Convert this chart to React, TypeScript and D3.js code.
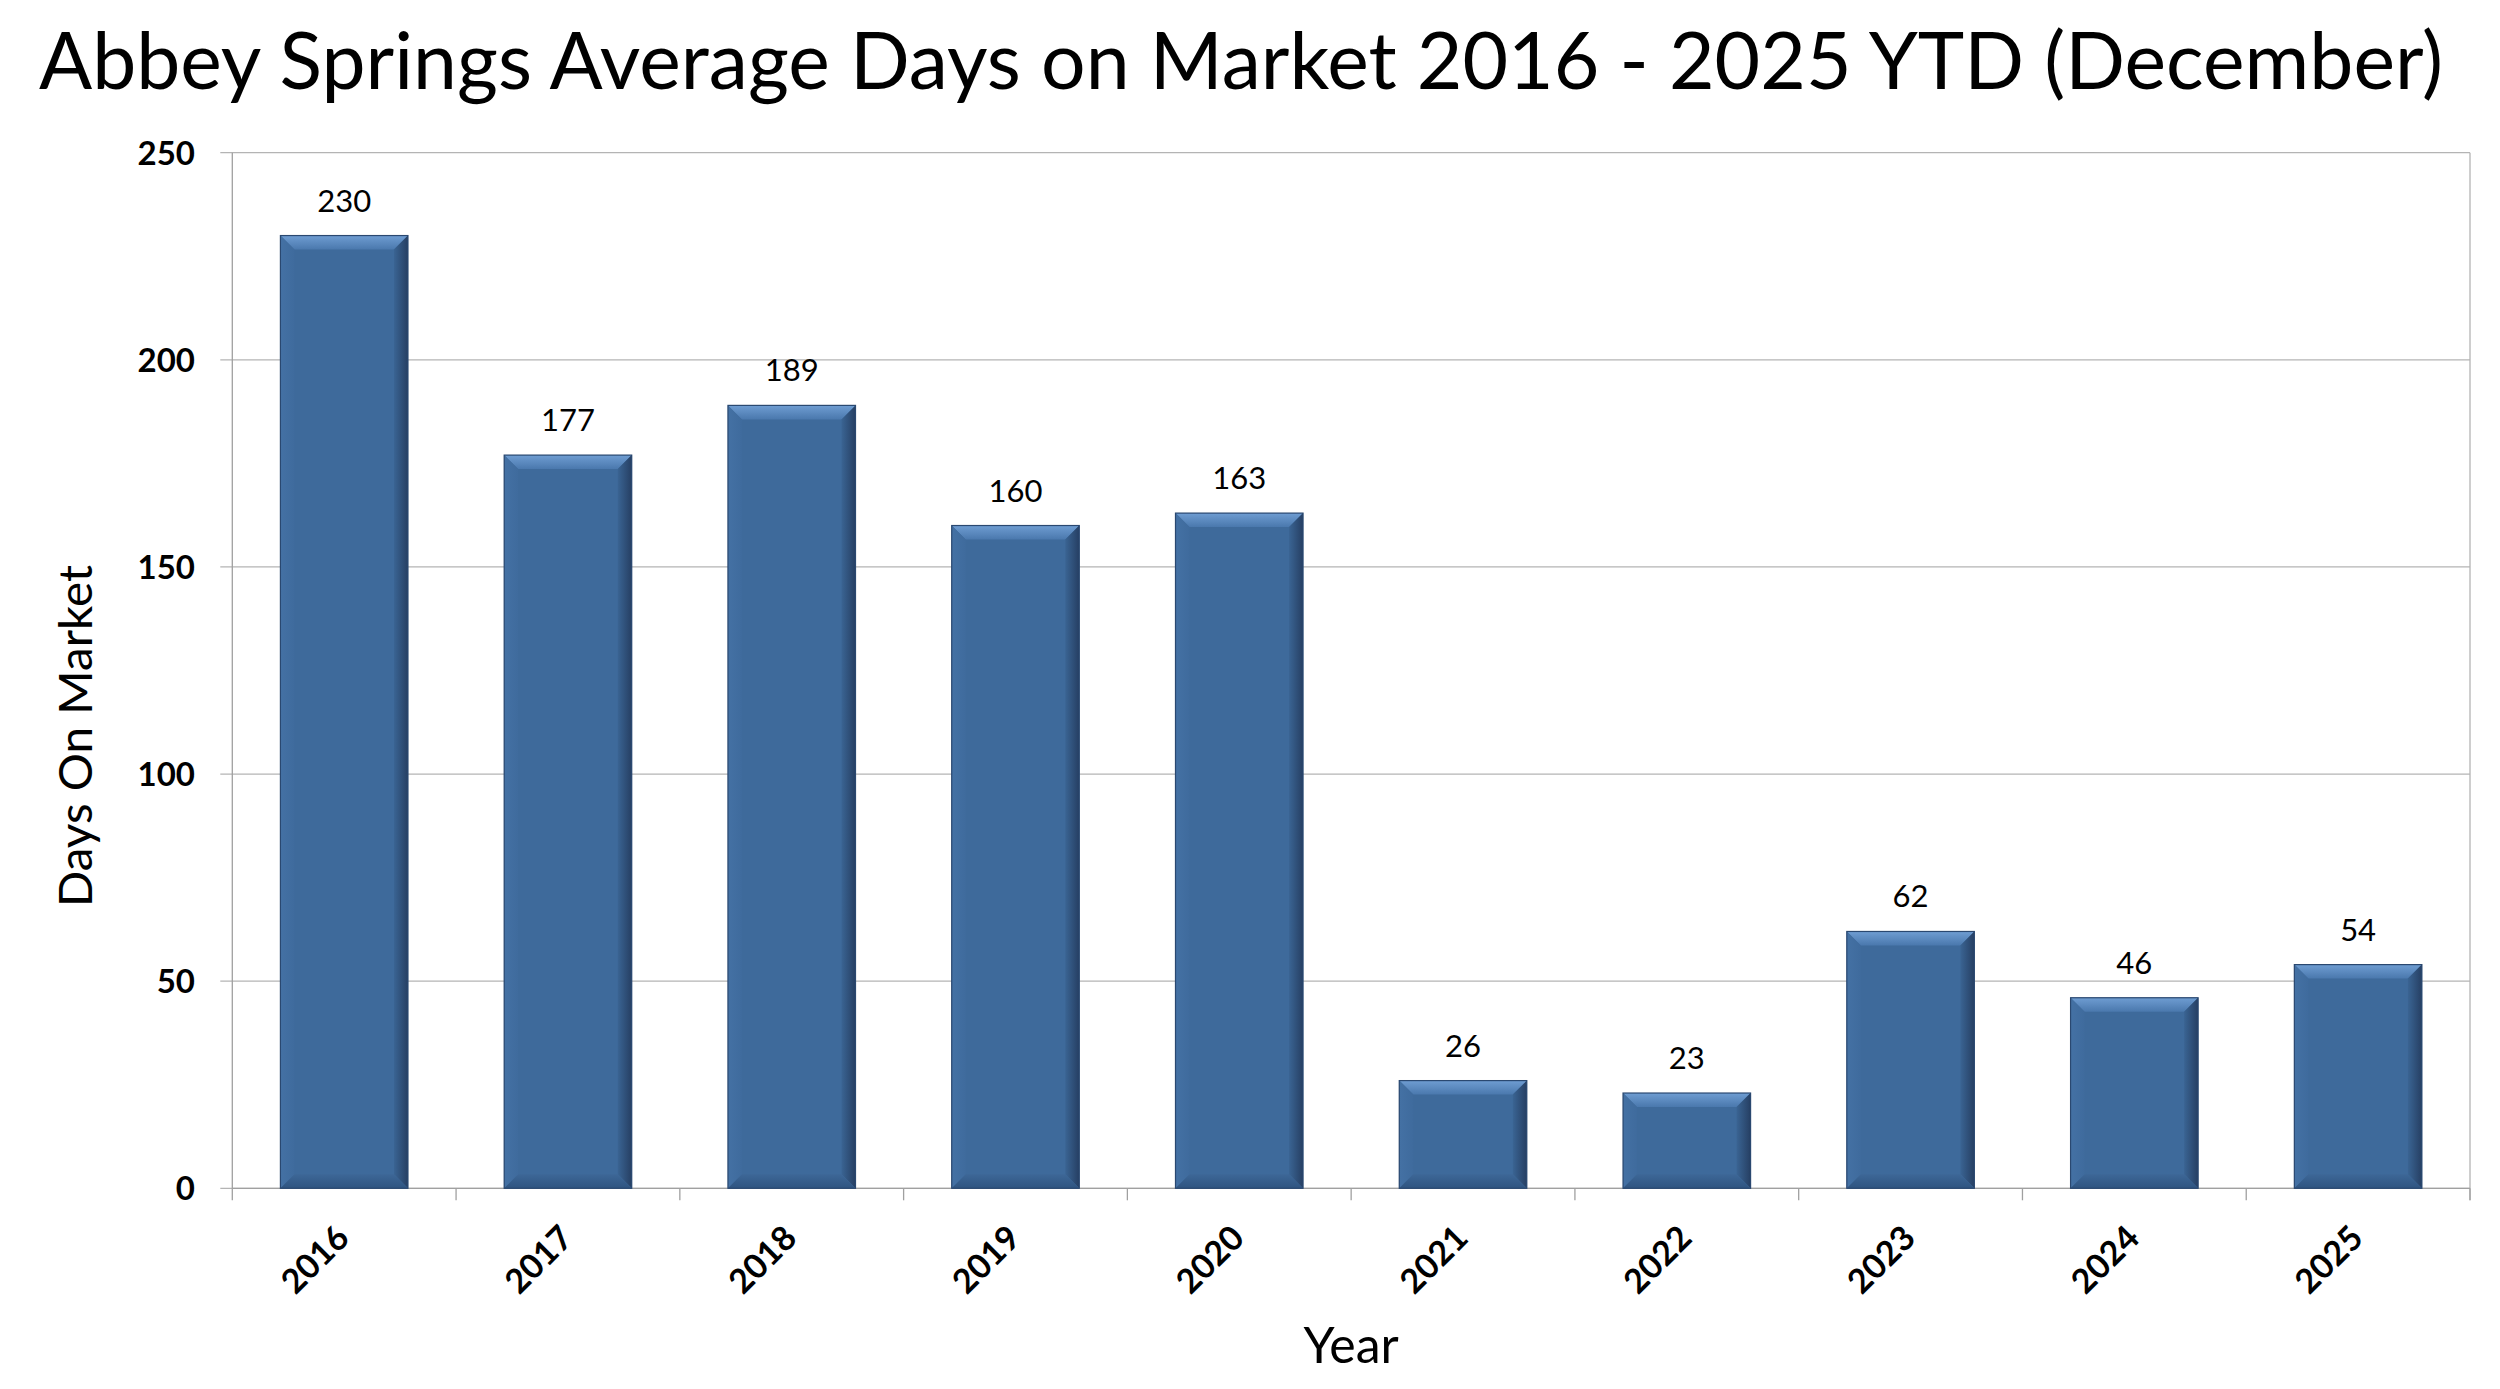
import React from "react";
import * as d3 from "d3";

const years = ["2016", "2017", "2018", "2019", "2020", "2021", "2022", "2023", "2024", "2025"];
const daysOnMarket = [230, 177, 189, 160, 163, 26, 23, 62, 46, 54];
const yTicks = [0, 50, 100, 150, 200, 250];
const titleText = "Abbey Springs Average Days on Market 2016 - 2025 YTD (December)";
const yTitle = "Days On Market";
const xTitle = "Year";

const W = 2500;
const H = 1389;
const left = 232.3;
const right = 2470;
const top = 152.7;
const bottom = 1188.3;
const FONT = "Lato, 'Open Sans', sans-serif";

export default function App() {
  const x = d3.scaleBand<string>().domain(years).range([left, right]).paddingInner(0.43).paddingOuter(0.215);
  const y = d3.scaleLinear().domain([0, 250]).range([bottom, top]);
  const step = x.step();
  const bw = x.bandwidth();

  const boundaries = d3.range(years.length + 1).map((i) => left + i * step);

  return (
    <svg width={W} height={H} style={{ position: "absolute", left: 0, top: 0, background: "#fff" }}>
      <defs>
        <linearGradient id="topBevel" x1="0" y1="0" x2="0" y2="1">
          <stop offset="0" stopColor="#6f9dd2" />
          <stop offset="1" stopColor="#4a78ad" />
        </linearGradient>
        <linearGradient id="rightBevel" x1="0" y1="0" x2="1" y2="0">
          <stop offset="0" stopColor="#3a6493" />
          <stop offset="1" stopColor="#263f63" />
        </linearGradient>
        <linearGradient id="leftBevel" x1="0" y1="0" x2="1" y2="0">
          <stop offset="0" stopColor="#4471a4" />
          <stop offset="1" stopColor="#3f6b9d" />
        </linearGradient>
        <linearGradient id="bottomBevel" x1="0" y1="0" x2="0" y2="1">
          <stop offset="0" stopColor="#3d6797" />
          <stop offset="1" stopColor="#2f5480" />
        </linearGradient>
      </defs>
      <rect x={0} y={0} width={W} height={H} fill="#fff" />

      {/* gridlines */}
      {yTicks.map((t) => (
        <line key={"g" + t} x1={left - 12} x2={right} y1={y(t)} y2={y(t)} stroke="#b4b4b4" strokeWidth={1.3} />
      ))}
      {/* y axis line */}
      <line x1={left} x2={left} y1={top} y2={bottom} stroke="#a0a0a0" strokeWidth={1.3} />
      <line x1={right} x2={right} y1={top} y2={bottom + 12} stroke="#b4b4b4" strokeWidth={1.3} />
      {/* x tick marks */}
      {boundaries.map((bx, i) => (
        <line key={"xt" + i} x1={bx} x2={bx} y1={bottom} y2={bottom + 12} stroke="#a0a0a0" strokeWidth={1.3} />
      ))}
      <line x1={left} x2={right} y1={bottom} y2={bottom} stroke="#a0a0a0" strokeWidth={1.3} />

      {/* y tick labels */}
      {yTicks.map((t) => (
        <text key={"yl" + t} x={195} y={y(t)} dy="0.36em" textAnchor="end" fontFamily={FONT} fontWeight="bold" fontSize={33} fill="#000">
          {t}
        </text>
      ))}

      {/* bars */}
      {years.map((yr, i) => {
        const v = daysOnMarket[i];
        const x0 = x(yr)!;
        const x1 = x0 + bw;
        const y0 = y(v);
        const y1 = y(0);
        const b = Math.min(14, (y1 - y0) / 2);
        const pts = (a: number[][]) => a.map((p) => p.join(",")).join(" ");
        return (
          <g key={yr}>
            <rect x={x0} y={y0} width={bw} height={y1 - y0} fill="#3e6a9b" />
            <polygon points={pts([[x0, y0], [x1, y0], [x1 - b, y0 + b], [x0 + b, y0 + b]])} fill="url(#topBevel)" />
            <polygon points={pts([[x0, y0], [x0 + b, y0 + b], [x0 + b, y1 - b], [x0, y1]])} fill="url(#leftBevel)" />
            <polygon points={pts([[x1, y0], [x1, y1], [x1 - b, y1 - b], [x1 - b, y0 + b]])} fill="url(#rightBevel)" />
            <polygon points={pts([[x0, y1], [x1, y1], [x1 - b, y1 - b], [x0 + b, y1 - b]])} fill="url(#bottomBevel)" />
            <rect x={x0} y={y0} width={bw} height={y1 - y0} fill="none" stroke="#2a4870" strokeWidth={1.2} />
            <text x={x0 + bw / 2} y={y0 - 24} textAnchor="middle" fontFamily={FONT} fontSize={31} fill="#000">
              {v}
            </text>
          </g>
        );
      })}

      {/* x tick labels */}
      {years.map((yr) => {
        const cx = x(yr)! + bw / 2 + 7;
        const cy = 1240;
        return (
          <text key={"xl" + yr} x={cx} y={cy} transform={`rotate(-45, ${cx}, ${cy})`} textAnchor="end" fontFamily={FONT} fontWeight="bold" fontSize={34} fill="#000">
            {yr}
          </text>
        );
      })}

      {/* title */}
      <text x={39} y={89} fontFamily={FONT} fontSize={79} fill="#000" textLength={2404} lengthAdjust="spacingAndGlyphs">
        {titleText}
      </text>

      {/* axis titles */}
      <text x={92} y={736} transform="rotate(-90, 92, 736)" textAnchor="middle" fontFamily={FONT} fontSize={47} fill="#000" textLength={342} lengthAdjust="spacingAndGlyphs">
        {yTitle}
      </text>
      <text x={(left + right) / 2} y={1363} textAnchor="middle" fontFamily={FONT} fontSize={50} fill="#000">
        {xTitle}
      </text>
    </svg>
  );
}
